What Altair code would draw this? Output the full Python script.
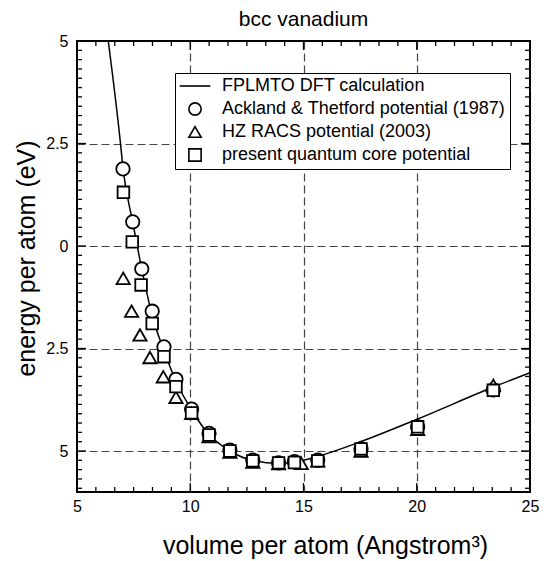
import altair as alt
import pandas as pd

FONT = "Liberation Sans"

# FPLMTO DFT curve
dft_x = [6.38, 6.92, 7.03, 7.46, 7.86, 8.32, 8.84, 9.37, 10.06, 10.83, 11.75,
         12.76, 13.9, 14.6, 15.63, 17.54, 20.04, 23.38, 25.0]
dft_y = [5.0, 2.5, 1.9, 0.58, -0.56, -1.7, -2.55, -3.3, -4.0, -4.6, -5.0,
         -5.23, -5.3, -5.27, -5.13, -4.77, -4.22, -3.44, -3.09]

# Ackland & Thetford potential (1987)
ack_x = [7.03, 7.46, 7.86, 8.32, 8.84, 9.37, 10.06, 10.83, 11.75, 12.76, 13.9, 14.6,
         15.63, 17.54, 20.04, 23.38]
ack_y = [1.88, 0.59, -0.56, -1.59, -2.46, -3.25, -3.98, -4.57, -4.98, -5.22, -5.29, -5.26,
         -5.22, -4.95, -4.41, -3.51]

# HZ RACS potential (2003)
hz_x = [7.04, 7.41, 7.78, 8.22, 8.81, 9.37, 10.06, 10.83, 11.75, 12.76, 13.9, 14.9,
        15.63, 17.54, 20.04, 23.38]
hz_y = [-0.79, -1.59, -2.17, -2.72, -3.19, -3.69, -4.08, -4.65, -5.03, -5.27, -5.31, -5.3,
        -5.24, -5.0, -4.47, -3.40]

# present quantum core potential
qc_x = [7.05, 7.44, 7.83, 8.32, 8.84, 9.37, 10.06, 10.83, 11.75, 12.76, 13.9, 14.6,
        15.63, 17.54, 20.04, 23.38]
qc_y = [1.31, 0.10, -0.95, -1.89, -2.70, -3.43, -4.07, -4.61, -5.00, -5.24, -5.29, -5.28,
        -5.24, -4.95, -4.41, -3.52]

series_names = ["FPLMTO DFT calculation", "Ackland & Thetford potential (1987)",
                "HZ RACS potential (2003)", "present quantum core potential"]

x_major = [5, 10, 15, 20, 25]
y_major = [-5, -2.5, 0, 2.5, 5]

# minor tick positions (6 intervals per x major step, 11 per y major step)
x_minor = [5 + i * 5 / 6 for i in range(25) if i % 6 != 0 and 5 + i * 5 / 6 < 25]
y_minor = [-5 + i * 2.5 / 11 for i in range(-4, 45) if i % 11 != 0 and -6 < -5 + i * 2.5 / 11 < 5]

df_line = pd.DataFrame({"x": dft_x, "y": dft_y})
df_ack = pd.DataFrame({"x": ack_x, "y": ack_y, "series": series_names[1]})
df_hz = pd.DataFrame({"x": hz_x, "y": hz_y, "series": series_names[2]})
df_qc = pd.DataFrame({"x": qc_x, "y": qc_y, "series": series_names[3]})

x_scale = alt.Scale(domain=[5, 25], nice=False, zero=False)
y_scale = alt.Scale(domain=[-6, 5], nice=False, zero=False)

W, H = 453, 451

x_axis = alt.Axis(
    values=x_major, title="volume per atom (Angstrom³)", domain=False, ticks=False,
    labelFontSize=16, labelPadding=6, labelColor="black", labelFont=FONT, labelFlush=False,
    titleFont=FONT, titleFontSize=25, titleFontWeight="normal", titleColor="black",
    titleX=248, titleY=61, titleBaseline="alphabetic", titleAlign="center",
    grid=True, gridDash=[8, 4], gridColor="#444444", gridWidth=1.2,
    gridOpacity={"condition": {"test": "datum.value == 5 || datum.value == 25", "value": 0}, "value": 1},
)
y_axis = alt.Axis(
    values=y_major, title="energy per atom (eV)", domain=False, ticks=False,
    labelExpr="abs(datum.value) + ''",
    labelFontSize=16, labelPadding=9, labelColor="black", labelFont=FONT, labelFlush=False,
    titleFont=FONT, titleFontSize=25, titleFontWeight="normal", titleColor="black",
    titleX=-51, titleY=217, titleAngle=270, titleBaseline="middle", titleAlign="center",
    grid=True, gridDash=[8, 4], gridColor="#444444", gridWidth=1.2,
    gridOpacity={"condition": {"test": "datum.value == 5", "value": 0}, "value": 1},
)

X = alt.X("x:Q", scale=x_scale, axis=x_axis)
Y = alt.Y("y:Q", scale=y_scale, axis=y_axis)

legend = alt.Legend(
    title=None, orient="none", legendX=98, legendY=32,
    strokeColor="black", fillColor="white", padding=4,
    symbolOffset=7, labelOffset=18, rowPadding=4,
    labelFontSize=18, labelFont=FONT, labelColor="black", labelLimit=500,
    symbolSize=150, symbolStrokeWidth=1.6,
)
shape_scale = alt.Scale(domain=series_names,
                        range=["M-2.5,0H2.5", "circle", "triangle-up", "square"])
S = alt.Shape("series:N", scale=shape_scale, legend=legend)

line = alt.Chart(df_line).mark_line(color="black", strokeWidth=1.5,
                                    interpolate="monotone").encode(x=X, y=Y)

def pts(df, size, shape):
    back = alt.Chart(df).mark_point(filled=True, color="white", opacity=1, size=size,
                                    strokeWidth=0).encode(x=X, y=Y, shape=alt.value(shape))
    front = alt.Chart(df).mark_point(filled=False, color="black", strokeWidth=1.8,
                                     size=size, opacity=1).encode(x=X, y=Y, shape=S)
    return [back, front]

marks = pts(df_ack, 180, "circle") + pts(df_hz, 175, "triangle-up") + pts(df_qc, 135, "square")

def tick_layers():
    layers = []
    specs = [(pd.DataFrame({"x": x_major[1:-1]}), 9), (pd.DataFrame({"x": x_minor}), 5)]
    for df, ln in specs:
        layers.append(alt.Chart(df).mark_rule(color="black", strokeWidth=1.3, y2Offset=-ln)
                      .encode(x=X, y=alt.datum(-6), y2=alt.datum(-6)))
        layers.append(alt.Chart(df).mark_rule(color="black", strokeWidth=1.3, y2Offset=ln)
                      .encode(x=X, y=alt.datum(5), y2=alt.datum(5)))
    specs = [(pd.DataFrame({"y": y_major[:-1]}), 9), (pd.DataFrame({"y": y_minor}), 5)]
    for df, ln in specs:
        layers.append(alt.Chart(df).mark_rule(color="black", strokeWidth=1.3, x2Offset=ln)
                      .encode(y=Y, x=alt.datum(5), x2=alt.datum(5)))
        layers.append(alt.Chart(df).mark_rule(color="black", strokeWidth=1.3, x2Offset=-ln)
                      .encode(y=Y, x=alt.datum(25), x2=alt.datum(25)))
    return layers

chart = alt.layer(
    line, *tick_layers(), *marks
).properties(
    width=W, height=H,
    title=alt.TitleParams("bcc vanadium", font=FONT, fontSize=21, fontWeight="normal",
                          color="black", anchor="middle", baseline="alphabetic", offset=-14,
                          frame="group"),
    autosize=alt.AutoSizeParams(type="none"),
    padding={"left": 69, "top": 33, "right": 10, "bottom": 68},
).configure_view(stroke="black", strokeWidth=2)

chart.save("out.html", embed_options={"renderer": "svg", "actions": False})
